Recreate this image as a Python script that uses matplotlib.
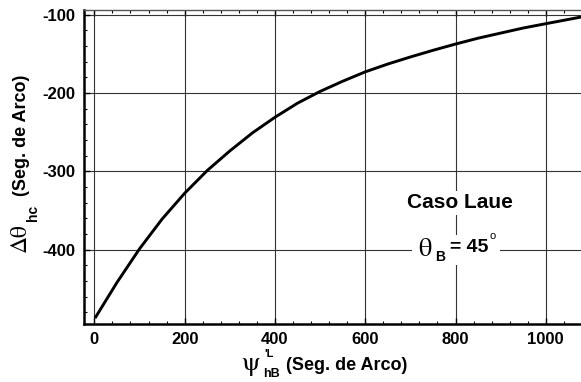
import numpy as np
import matplotlib.pyplot as plt
from matplotlib.patches import Rectangle
from matplotlib.ticker import MultipleLocator

plt.rcParams['font.family'] = ['Liberation Sans', 'DejaVu Sans']
plt.rcParams['font.weight'] = 'bold'
plt.rcParams['axes.unicode_minus'] = False

# data
psi = [3, 50, 100, 150, 200, 250, 300, 350, 400, 450, 500, 550, 600, 650,
       700, 750, 800, 850, 900, 950, 1000, 1078]
dtheta = [-486, -442, -399, -361, -328, -299, -274, -251, -231, -213, -198,
          -185, -173, -163, -154, -145.5, -137.5, -130, -123.5, -117, -111.5,
          -103]
xticks = [0, 200, 400, 600, 800, 1000]
yticks = [-400, -300, -200, -100]

W, H = 581, 382
fig = plt.figure(figsize=(W / 100, H / 100), dpi=100)
ax = fig.add_axes([84 / W, 1 - 324 / H, 1 - 84 / W, (324 - 10) / H])

ax.plot(psi, dtheta, color='black', lw=2.1, zorder=3,
        solid_joinstyle='round')
ax.set_xlim(-23, 1078)
ax.set_ylim(-495, -94)
ax.set_xticks(xticks)
ax.set_yticks(yticks)
ax.xaxis.set_minor_locator(MultipleLocator(40))
ax.yaxis.set_minor_locator(MultipleLocator(20))
ax.tick_params(which='both', direction='in', top=True, right=False,
               labelsize=12, pad=6)
ax.tick_params(which='major', length=4, width=1)
ax.tick_params(which='minor', length=2.5, width=0.8)
ax.grid(True, which='major', color='#333333', lw=0.8)
ax.spines['right'].set_visible(False)
ax.spines['left'].set_linewidth(1.8)
ax.spines['bottom'].set_linewidth(1.8)
ax.spines['top'].set_linewidth(1.0)
ax.spines['top'].set_color('#555555')
for lab in ax.get_xticklabels() + ax.get_yticklabels():
    lab.set_fontweight('bold')

greek = dict(family='STIXGeneral', fontweight='normal')


def ftext(x, y, s, **kw):
    return fig.text(x / W, 1 - y / H, s, ha='center', va='center', **kw)


# y label
ftext(22, 135, '(Seg. de Arco)', rotation=90, fontsize=13, fontweight='bold')
ftext(33, 213, 'hc', rotation=90, fontsize=10, fontweight='bold')
ftext(20, 238, '\u0394\u03b8', rotation=90, fontsize=17, **greek)

# x label
ftext(251, 364, '\u03c8', fontsize=19, **greek)
ftext(269, 354, "'L", fontsize=8, fontweight='bold')
ftext(272, 374, 'hB', fontsize=9, fontweight='bold')
ftext(347, 365, '(Seg. de Arco)', fontsize=13, fontweight='bold')

# annotation
ftext(460, 203, 'Caso Laue', fontsize=15, fontweight='bold',
      bbox=dict(facecolor='white', edgecolor='none', pad=2))
fig.add_artist(Rectangle((412 / W, 1 - 265 / H), 88 / W, 30 / H,
                         transform=fig.transFigure, facecolor='white',
                         edgecolor='none', zorder=2))
ftext(425, 250, '\u03b8', fontsize=19, zorder=4, **greek)
ftext(440, 257, 'B', fontsize=10, fontweight='bold', zorder=4)
ftext(469, 247, '= 45', fontsize=14, fontweight='bold', zorder=4)
ftext(493, 236, 'o', fontsize=8, fontweight='normal', zorder=4)

fig.savefig('out.png', dpi=100)
